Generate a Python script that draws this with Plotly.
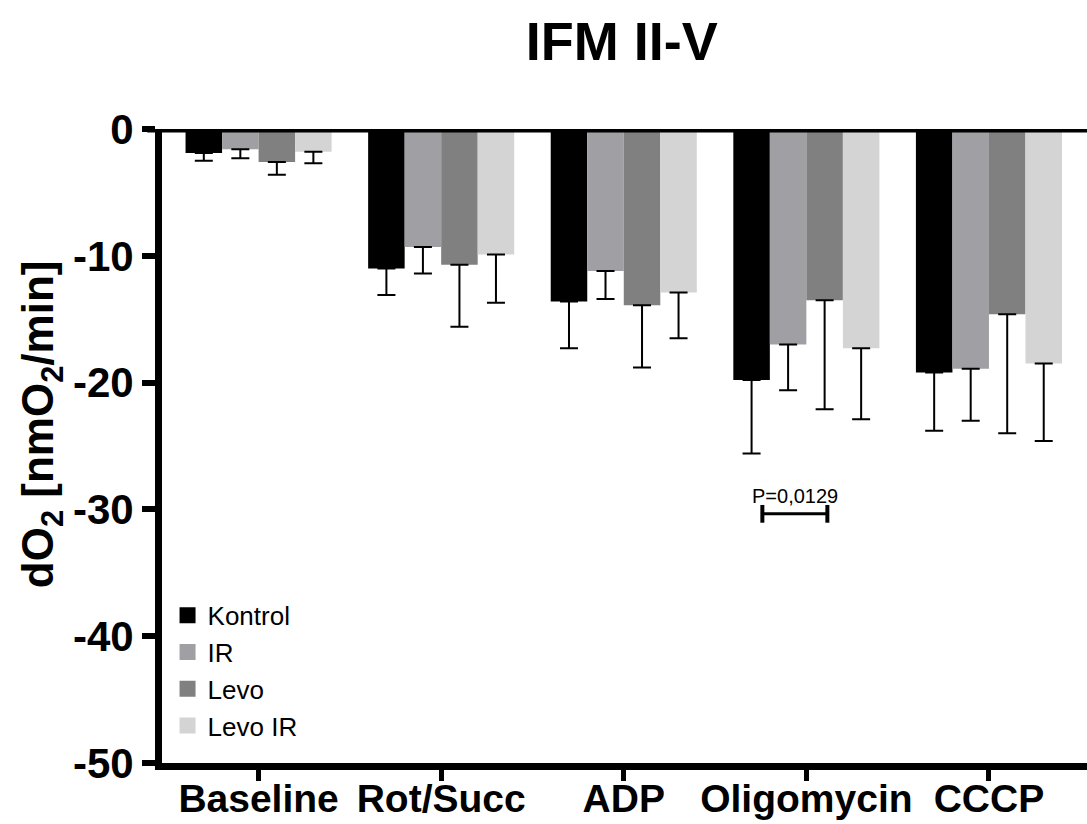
import plotly.graph_objects as go

categories = ["Baseline", "Rot/Succ", "ADP", "Oligomycin", "CCCP"]
series_names = ["Kontrol", "IR", "Levo", "Levo IR"]
kontrol = [-1.9, -11.0, -13.6, -19.8, -19.2]
kontrol_err = [0.6, 2.1, 3.7, 5.8, 4.6]
ir = [-1.6, -9.3, -11.2, -17.0, -18.9]
ir_err = [0.7, 2.1, 2.2, 3.6, 4.1]
levo = [-2.6, -10.7, -13.9, -13.5, -14.6]
levo_err = [1.0, 4.9, 4.9, 8.6, 9.4]
levo_ir = [-1.8, -9.9, -12.9, -17.3, -18.5]
levo_ir_err = [0.9, 3.8, 3.6, 5.6, 6.1]
colors = ["#000000", "#A0A0A4", "#808080", "#D4D4D4"]
y_ticks = [0, -10, -20, -30, -40, -50]
p_text = "P=0,0129"

FONT = "Liberation Sans, Arial, Helvetica, sans-serif"

fig = go.Figure()
for name, vals, errs, col in zip(series_names, [kontrol, ir, levo, levo_ir],
                                 [kontrol_err, ir_err, levo_err, levo_ir_err], colors):
    fig.add_trace(go.Bar(
        x=categories, y=vals, name=name, showlegend=False,
        marker=dict(color=col, line=dict(width=0)),
        error_y=dict(type="data", symmetric=False, array=[0] * len(errs), arrayminus=errs,
                     color="black", thickness=2, width=9),
    ))
# legend entries (large square keys)
for name, col in zip(series_names, colors):
    fig.add_trace(go.Scatter(
        x=[None], y=[None], mode="markers", name=name,
        marker=dict(symbol="square", size=16, color=col, line=dict(width=0)),
    ))

# zero line
fig.add_shape(type="line", xref="paper", yref="y", x0=-0.016, x1=1, y0=0, y1=0,
              line=dict(color="black", width=7), layer="above")

# significance bracket
bx0, bx1, by = 2.759, 3.115, -30.35
fig.add_shape(type="line", xref="x", yref="y", x0=bx0, x1=bx1, y0=by, y1=by,
              line=dict(color="black", width=3))
for bx in (bx0, bx1):
    fig.add_shape(type="line", xref="x", yref="y", x0=bx, x1=bx, y0=by + 0.7, y1=by - 0.7,
                  line=dict(color="black", width=4))
fig.add_annotation(x=(bx0 + bx1) / 2, y=-28.95, xref="x", yref="y", text=p_text,
                   showarrow=False, font=dict(family=FONT, size=20, color="black"))

# y-axis title
fig.add_annotation(x=-0.13, y=0.534, xref="paper", yref="paper", textangle=-90,
                   text="<b>dO<sub>2</sub> [nmO<sub>2</sub>/min]</b>", showarrow=False,
                   xanchor="center", yanchor="middle",
                   font=dict(family=FONT, size=44, color="black"))

fig.update_layout(
    width=1087, height=824,
    margin=dict(l=162, r=0, t=129, b=61),
    paper_bgcolor="white", plot_bgcolor="white",
    barmode="group", bargap=0.2, bargroupgap=0,
    title=dict(text="<b>IFM II-V</b>", x=0.572, xanchor="center", y=0.95, yanchor="middle",
               font=dict(family=FONT, size=54, color="black")),
    font=dict(family=FONT, color="black"),
    showlegend=True,
    legend=dict(x=0.006, y=0.27, xanchor="left", yanchor="top",
                font=dict(family=FONT, size=26, color="black"),
                bgcolor="rgba(0,0,0,0)", itemwidth=30, tracegroupgap=0),
)
fig.update_xaxes(
    range=[-0.529, 4.537], showline=True, linecolor="black", linewidth=7,
    ticks="outside", ticklen=11, tickwidth=5, tickcolor="black",
    tickfont=dict(family=FONT, size=39, color="black"), automargin=False,
    ticklabelstandoff=-16,
    tickprefix="<b>", ticksuffix="</b>", showgrid=False, zeroline=False,
)
fig.update_yaxes(
    range=[-50, 0], tickvals=y_ticks, ticktext=[f"<b>{v}</b>" for v in y_ticks],
    showline=True, linecolor="black", linewidth=7, automargin=False,
    ticks="outside", ticklen=13, tickwidth=6, tickcolor="black",
    tickfont=dict(family=FONT, size=42, color="black"),
    showgrid=False, zeroline=False,
)

fig.write_html("out.html")
